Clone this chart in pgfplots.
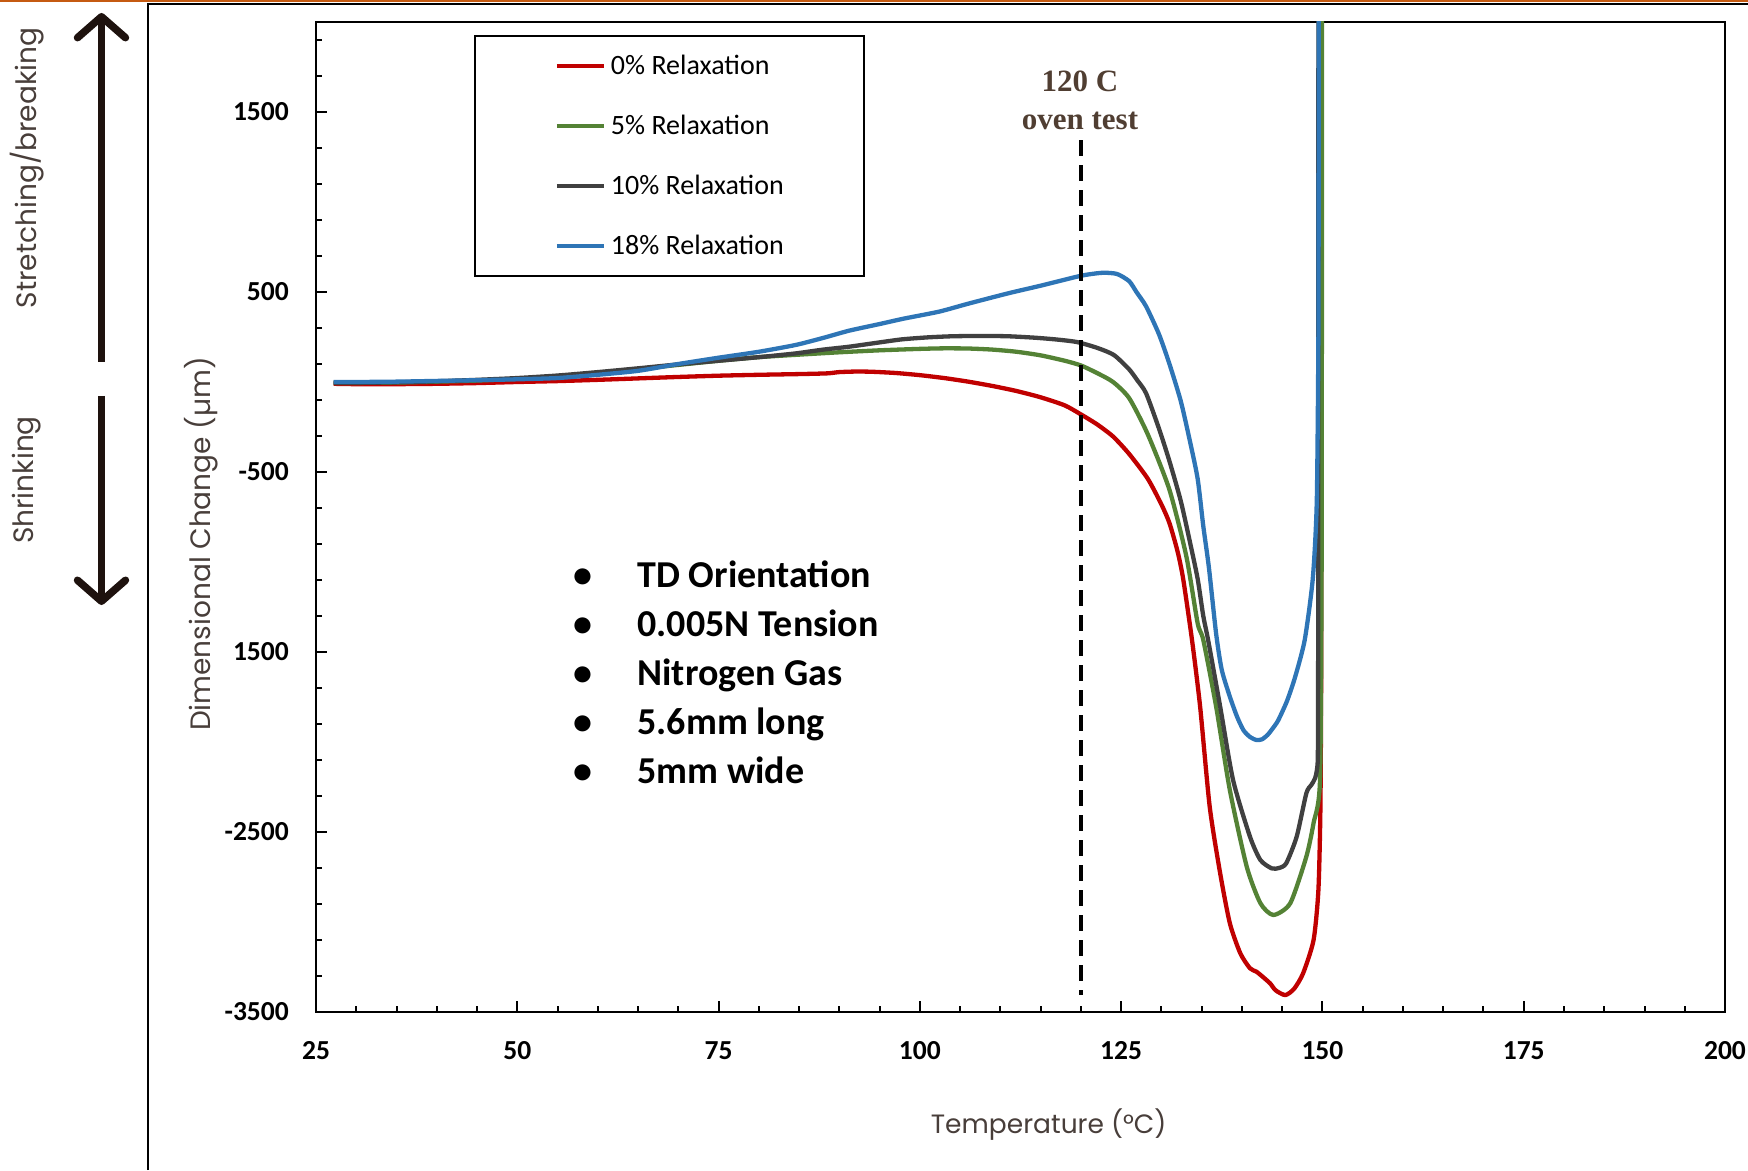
\documentclass[border=0pt]{standalone}
\usepackage{fontspec}
\usepackage{pgfplots}
\pgfplotsset{compat=1.18}
\usetikzlibrary{arrows.meta}
\newfontfamily\carlito{Carlito}
\newfontfamily\poppins{Poppins}
\newfontfamily\libserif{Liberation Serif}
\definecolor{cred}{RGB}{192,0,0}
\definecolor{cgreen}{RGB}{84,130,53}
\definecolor{cblack}{RGB}{64,64,64}
\definecolor{cblue}{RGB}{46,117,182}
\definecolor{corange}{RGB}{197,90,17}
\definecolor{cbrown}{RGB}{30,18,14}
\definecolor{ctext}{RGB}{72,62,58}
\definecolor{ctitle}{RGB}{80,62,50}
\begin{document}
\begin{tikzpicture}[x=1pt,y=1pt]
\begin{axis}[
  width=1409pt, height=990pt, scale only axis,
  xmin=25, xmax=200, ymin=-3500, ymax=2000,
  axis line style={line width=2.5pt},
  every tick/.style={black, line width=2pt},
  major tick length=11pt, minor tick length=6.5pt,
  tick align=inside, tick pos=left,
  xtick={25,50,...,200}, xticklabels={25,50,75,100,125,150,175,200},
  minor xtick={30,35,...,195},
  ytick={-3500,-2500,-1500,-500,500,1500},
  yticklabels={-3500,-2500,1500,-500,500,1500},
  minor ytick={-3300,-3100,...,1900},
  xticklabel style={font=\carlito\bfseries\fontsize{27.5}{30}\selectfont, anchor=north, inner sep=0pt, yshift=-29pt},
  yticklabel style={font=\carlito\bfseries\fontsize{27.5}{30}\selectfont, anchor=east, inner sep=0pt, xshift=-27pt},
  xlabel={Temperature (°C)},
  xlabel style={at={(axis description cs:0.520,-0.114)}, anchor=center, font=\poppins\fontsize{26.5}{30}\selectfont, text=ctext},
  ylabel={Dimensional Change (µm)},
  ylabel style={at={(axis description cs:-0.0818,0.4727)}, anchor=center, font=\poppins\fontsize{28}{30}\selectfont, text=ctext},
  legend style={at={(0.1121,0.9869)}, anchor=north west, draw=black, line width=2pt, fill=white,
    inner xsep=80pt, inner ysep=17pt, row sep=34pt, column sep=5pt,
    font=\carlito\fontsize{28}{30}\selectfont,
    nodes={inner sep=0pt, text height=22pt, text depth=4pt}},
  legend cell align=left,
  legend image code/.code={\draw[#1, line width=4pt] (0pt,0pt) -- (47pt,0pt);},
  every axis plot/.append style={line width=4.3pt, line join=round},
]
\addplot[cred, smooth, tension=0.4] coordinates {
(27.2,-10) (30,-12) (35,-12) (40,-10) (45,-6) (50,0) (55,5) (60,12) (65,20) (70,28) (75,35) (80,40) (85,44) (88.5,48) (90,55) (92,58) (94,57) (97,50) (100,38) (103,22) (106,2) (109,-22) (112,-50) (115,-85) (118,-130) (120,-180) (122,-235) (124,-303) (126,-400) (128.3,-537) (130,-680) (131,-784) (132,-940) (132.7,-1093) (133.8,-1433) (134.8,-1800) (136,-2360) (137.3,-2730) (138.5,-3007) (139.8,-3174) (141,-3257) (141.8,-3276) (142.6,-3305) (143.5,-3341) (144.2,-3380) (145.4,-3406) (146.5,-3370) (147.6,-3285) (148.9,-3100) (149.5,-2822) (149.75,-2359) (149.85,-1500) (149.88,0) (149.9,2100)
};
\addlegendentry{0\% Relaxation}
\addplot[cgreen, smooth, tension=0.4] coordinates {
(27.2,-5) (30,-5) (35,-3) (40,2) (45,8) (50,18) (55,30) (60,48) (65,72) (70,95) (75,118) (80,138) (85,152) (90,165) (95,176) (100,184) (103,187) (106,186) (109,180) (112,168) (115,148) (118,118) (120,92) (122,50) (124,0) (126,-90) (128.3,-290) (131,-599) (133.1,-969) (134.5,-1340) (135.2,-1433) (136.8,-1804) (138.5,-2267) (140.6,-2693) (142.3,-2896) (143.9,-2961) (146,-2896) (148,-2637) (148.9,-2450) (149.7,-2211) (149.9,-1000) (149.93,500) (149.95,2100)
};
\addlegendentry{5\% Relaxation}
\addplot[cblack, smooth, tension=0.4] coordinates {
(27.2,-5) (30,-5) (35,-2) (40,4) (45,12) (50,22) (55,36) (60,55) (65,76) (70,98) (75,118) (80,138) (84.6,159) (88,180) (91.2,196) (95,220) (97.8,237) (101,248) (104,254) (107.7,256) (111,254) (114.3,246) (117,236) (119.5,222) (122,190) (124.1,150) (126,70) (127,10) (128.1,-63) (129.7,-259) (131,-440) (132.4,-660) (133.5,-880) (134.5,-1093) (135.2,-1300) (135.8,-1433) (137.3,-1804) (138.9,-2211) (141,-2526) (142.3,-2656) (143.7,-2702) (144.6,-2700) (145.5,-2674) (146.8,-2526) (148,-2285) (148.6,-2240) (149.1,-2200) (149.4,-2120) (149.45,-1900) (149.48,-1000) (149.5,2100)
};
\addlegendentry{10\% Relaxation}
\addplot[cblue, smooth, tension=0.4] coordinates {
(27.2,0) (30,0) (35,2) (40,6) (45,10) (50,15) (55,22) (60,40) (65,62) (70,100) (75,135) (80,168) (84.6,206) (88,245) (91.2,285) (95,322) (98,352) (102.4,391) (106,435) (111,493) (115,535) (119.5,585) (121,598) (122.8,607) (124.5,600) (126,560) (126.9,500) (128.1,420) (129.7,265) (131,100) (132.4,-105) (133.5,-320) (134.5,-537) (135.2,-800) (135.9,-1031) (136.8,-1400) (137.5,-1600) (138.5,-1748) (139.4,-1860) (140.2,-1935) (141,-1972) (141.8,-1989) (142.5,-1985) (143.2,-1960) (143.8,-1926) (144.5,-1880) (145.6,-1772) (146.6,-1640) (147.8,-1433) (148.8,-1093) (149.3,-660) (149.5,265) (149.53,1200) (149.55,2100)
};
\addlegendentry{18\% Relaxation}
\addplot[black, line width=4pt, dash pattern=on 16pt off 9pt, forget plot] coordinates {(120,1344) (120,-3408)};
\coordinate (O) at (rel axis cs:0,0);
\end{axis}
\begin{scope}[shift={(O)}, xshift=-316pt, yshift=-158pt]
\useasboundingbox (0,0) rectangle (1748,1170);
\fill[corange] (0,1167.5) rectangle (1748,1170);
\draw[line width=2.5pt] (148,0) -- (148,1166) -- (1748,1166);
\draw[cbrown, line width=7.5pt, -{Straight Barb[length=21pt,width=48pt,round]}] (101.5,808) -- (101.5,1157);
\draw[cbrown, line width=7.5pt, -{Straight Barb[length=21pt,width=48pt,round]}] (101.5,774) -- (101.5,565);
\node[rotate=90, text=ctext, font=\poppins\fontsize{28}{30}\selectfont] at (27,1002) {Stretching/breaking};
\node[rotate=90, text=ctext, font=\poppins\fontsize{28}{30}\selectfont] at (27,690) {Shrinking};
\node[anchor=base, font=\libserif\bfseries\fontsize{31}{33}\selectfont, text=ctitle] at (1080,1078) {120 C};
\node[anchor=base, font=\libserif\bfseries\fontsize{31}{33}\selectfont, text=ctitle] at (1080,1040) {oven test};
\begin{scope}[every node/.style={font=\carlito\bfseries\fontsize{38}{42}\selectfont}]
\node[anchor=base] at (583,582) {•}; \node[anchor=base west] at (634,582) {TD Orientation};
\node[anchor=base] at (583,533) {•}; \node[anchor=base west] at (634,533) {0.005N Tension};
\node[anchor=base] at (583,484) {•}; \node[anchor=base west] at (634,484) {Nitrogen Gas};
\node[anchor=base] at (583,435) {•}; \node[anchor=base west] at (634,435) {5.6mm long};
\node[anchor=base] at (583,386) {•}; \node[anchor=base west] at (634,386) {5mm wide};
\end{scope}
\end{scope}
\end{tikzpicture}
\end{document}
